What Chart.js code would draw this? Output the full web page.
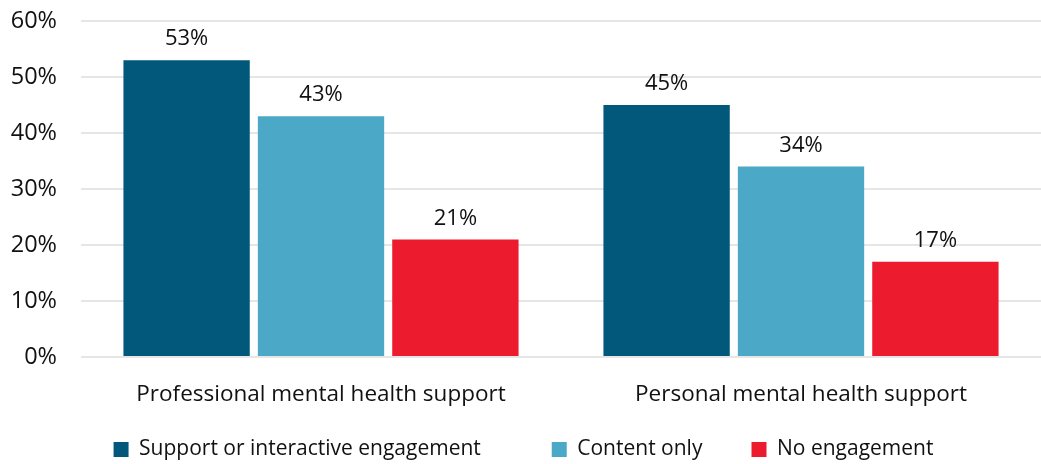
<!DOCTYPE html>
<html>
<head>
<meta charset="utf-8">
<script src="https://cdn.jsdelivr.net/npm/chart.js@4"></script>
<style>
  html, body { margin: 0; padding: 0; background: #fff; }
  .chart-container { position: relative; width: 1041px; height: 464px; }
</style>
</head>
<body>
<div class="chart-container"><canvas id="engagementChart"></canvas></div>
<script>
const categories = ["Professional mental health support", "Personal mental health support"];
const seriesNames = ["Support or interactive engagement", "Content only", "No engagement"];
const supportValues = [53, 45];
const contentValues = [43, 34];
const noEngagementValues = [21, 17];
const yTicks = [0, 10, 20, 30, 40, 50, 60];

const FONT = "'Open Sans', 'Noto Sans', sans-serif";

// draws the % label above each bar
const barLabels = {
    id: "barLabels",
    afterDatasetsDraw(chart) {
        const ctx = chart.ctx;
        ctx.save();
        ctx.font = "22px " + FONT;
        ctx.fillStyle = "#111";
        ctx.textAlign = "center";
        ctx.textBaseline = "bottom";
        chart.data.datasets.forEach((ds, i) => {
            chart.getDatasetMeta(i).data.forEach((bar, j) => {
                ctx.fillText(ds.data[j] + "%", bar.x, bar.y - 10);
            });
        });
        ctx.restore();
    }
};

// trailing spaces widen the gaps between legend entries
const legendGaps = [13, 9, 0];

new Chart(document.getElementById("engagementChart").getContext("2d"), {
    type: "bar",
    data: {
        labels: categories,
        datasets: [{
            label: seriesNames[0],
            data: supportValues,
            backgroundColor: "#02587A",
        }, {
            label: seriesNames[1],
            data: contentValues,
            backgroundColor: "#4BA8C6",
        }, {
            label: seriesNames[2],
            data: noEngagementValues,
            backgroundColor: "#EC1C2E",
        }],
    },
    options: {
        responsive: true,
        maintainAspectRatio: false,
        animation: false,
        layout: { padding: { top: 0, right: -6, left: 0, bottom: -6 } },
        datasets: { bar: { categoryPercentage: 0.84, barPercentage: 0.94 } },
        scales: {
            x: {
                afterFit: (axis) => { axis.height = 82; },
                grid: { display: false },
                border: { display: false },
                ticks: { color: "#111", font: { family: FONT, size: 22.5 }, padding: 16 },
            },
            y: {
                min: yTicks[0],
                max: yTicks[yTicks.length - 1],
                afterBuildTicks: (axis) => { axis.ticks = yTicks.map(v => ({ value: v })); },
                afterFit: (axis) => {
                    axis.width = 81;
                    axis.paddingTop = 21;
                },
                grid: { color: "#e6e6e6", lineWidth: 2, drawTicks: false },
                border: { display: false },
                ticks: {
                    color: "#111",
                    font: { family: FONT, size: 23.5 },
                    padding: 24,
                    callback: (v) => v + "%",
                },
            },
        },
        plugins: {
            tooltip: { enabled: false },
            legend: {
                position: "bottom",
                labels: {
                    color: "#111",
                    font: { family: FONT, size: 21 },
                    boxWidth: 15,
                    boxHeight: 15,
                    padding: 0,
                    generateLabels: (chart) => Chart.defaults.plugins.legend.labels.generateLabels(chart)
                        .map((item, i) => {
                            item.text = item.text + " ".repeat(legendGaps[i]);
                            return item;
                        }),
                },
            },
        },
    },
    plugins: [barLabels],
});
</script>
</body>
</html>
